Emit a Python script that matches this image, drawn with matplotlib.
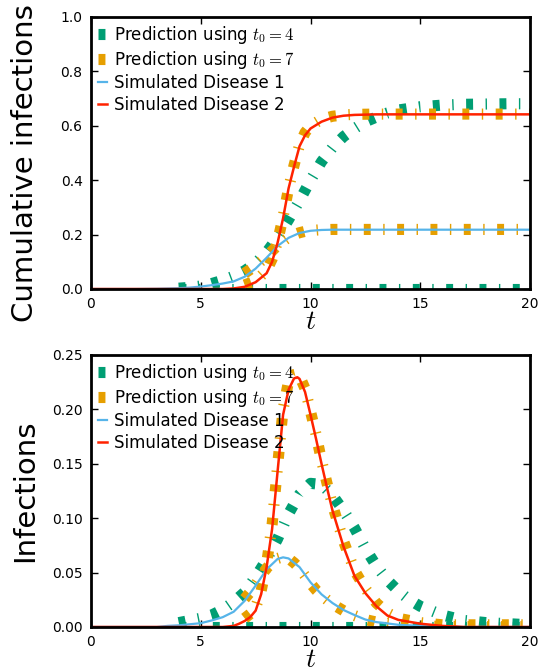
import numpy as np
import matplotlib
matplotlib.use('Agg')
import matplotlib.pyplot as plt

plt.rcParams['mathtext.fontset'] = 'cm'
plt.rcParams['lines.scale_dashes'] = False

TEAL = '#009E73'
ORANGE = '#E69F00'
SKY = '#56B4E9'
RED = '#FF2200'

# ---- cumulative infections (top panel) ----
t_sim1_cum = [0, 1, 2, 3, 4, 4.5, 5, 5.5, 6, 6.5, 7, 7.5, 8, 8.5, 9, 9.5, 10, 10.5, 11, 12, 14, 16, 18, 20]
sim1_cum = [0, 0, 0, 0.001, 0.003, 0.005, 0.009, 0.014, 0.02, 0.028, 0.045, 0.075, 0.115, 0.158, 0.188,
            0.206, 0.214, 0.217, 0.218, 0.218, 0.218, 0.218, 0.218, 0.218]

t_sim2_cum = [0, 2, 4, 6, 6.5, 7, 7.5, 8, 8.25, 8.5, 8.75, 9, 9.25, 9.5, 9.75, 10, 10.5, 11, 11.5, 12,
              13, 15, 17, 20]
sim2_cum = [0, 0, 0, 0, 0.002, 0.008, 0.025, 0.058, 0.1, 0.17, 0.26, 0.37, 0.45, 0.525, 0.565, 0.59,
            0.615, 0.63, 0.637, 0.64, 0.642, 0.642, 0.642, 0.642]

t_p4_cum = [4, 4.5, 5, 5.5, 6, 6.5, 7, 7.5, 8, 8.5, 9, 9.5, 10, 10.5, 11, 11.5, 12, 12.5, 13, 13.5, 14,
            15, 16, 17, 18, 19, 20]
p4_d2_cum = [0.003, 0.006, 0.011, 0.02, 0.032, 0.047, 0.067, 0.095, 0.135, 0.19, 0.255, 0.325, 0.4,
             0.468, 0.52, 0.56, 0.59, 0.615, 0.632, 0.647, 0.658, 0.67, 0.676, 0.679, 0.68, 0.681, 0.681]
t_p4_flat = [4, 20]
p4_d1_cum = [0, 0]

t_p7_cum = [7, 7.5, 8, 8.25, 8.5, 8.75, 9, 9.25, 9.5, 9.75, 10, 10.5, 11, 11.5, 12, 13, 15, 17, 20]
p7_d1_cum = [0.058, 0.085, 0.12, 0.14, 0.16, 0.176, 0.19, 0.2, 0.207, 0.212, 0.215, 0.218, 0.219,
             0.219, 0.219, 0.219, 0.219, 0.219, 0.219]
p7_d2_cum = [0.015, 0.03, 0.068, 0.11, 0.175, 0.265, 0.37, 0.455, 0.53, 0.575, 0.6, 0.624, 0.635,
             0.64, 0.642, 0.643, 0.643, 0.643, 0.643]

# ---- infections (bottom panel) ----
t_sim1 = [0, 1, 2, 3, 3.5, 4, 4.5, 5, 5.5, 6, 6.5, 7, 7.5, 8, 8.5, 8.75, 9, 9.5, 10, 10.5, 11, 11.5,
          12, 12.5, 13, 14, 15, 16, 17, 20]
sim1_inf = [0, 0, 0, 0, 0.001, 0.0015, 0.0025, 0.0035, 0.006, 0.009, 0.014, 0.024, 0.038, 0.053,
            0.0625, 0.064, 0.063, 0.055, 0.041, 0.03, 0.022, 0.0156, 0.011, 0.0068, 0.0045, 0.002,
            0.001, 0.0005, 0, 0]

t_sim2 = [0, 2, 4, 6, 6.5, 6.75, 7, 7.25, 7.5, 7.75, 8, 8.25, 8.5, 8.75, 9, 9.25, 9.4, 9.5, 9.75, 10,
          10.25, 10.5, 10.75, 11, 11.5, 12, 12.5, 13, 13.5, 14, 15, 16, 17, 20]
sim2_inf = [0, 0, 0, 0, 0.001, 0.003, 0.0055, 0.009, 0.015, 0.03, 0.055, 0.09, 0.143, 0.195, 0.218,
            0.2285, 0.2295, 0.228, 0.216, 0.195, 0.173, 0.15, 0.128, 0.107, 0.074, 0.047, 0.031,
            0.019, 0.0105, 0.0065, 0.003, 0.001, 0, 0]

t_p4 = [4, 4.5, 5, 5.5, 6, 6.5, 7, 7.5, 8, 8.5, 9, 9.5, 10, 10.5, 11, 11.5, 12, 12.5, 13, 13.5, 14,
        14.5, 15, 16, 17, 18, 19, 20]
p4_d2_inf = [0.004, 0.006, 0.008, 0.011, 0.016, 0.023, 0.032, 0.046, 0.062, 0.081, 0.104, 0.122,
             0.132, 0.131, 0.121, 0.107, 0.091, 0.072, 0.056, 0.043, 0.033, 0.025, 0.019, 0.011,
             0.006, 0.004, 0.003, 0.002]
p4_d1_inf = [0, 0]

t_p7 = [7, 7.25, 7.5, 7.75, 8, 8.25, 8.5, 8.75, 9, 9.25, 9.45, 9.75, 10, 10.25, 10.5, 10.75, 11, 11.5,
        12, 12.5, 13, 13.5, 14, 15, 16, 17, 20]
p7_d1_inf = [0.026, 0.032, 0.039, 0.047, 0.054, 0.059, 0.063, 0.0645, 0.063, 0.059, 0.055, 0.047,
             0.04, 0.034, 0.029, 0.025, 0.021, 0.015, 0.0105, 0.0068, 0.0045, 0.003, 0.002, 0.001,
             0.0005, 0.0003, 0.0003]
p7_d2_inf = [0.008, 0.012, 0.018, 0.033, 0.058, 0.094, 0.148, 0.2, 0.226, 0.232, 0.233, 0.219,
             0.198, 0.177, 0.153, 0.132, 0.112, 0.079, 0.052, 0.035, 0.022, 0.013, 0.008, 0.004,
             0.002, 0.002, 0.002]

pred_lw = 8
pred_dashes = (5, 9.0, 1.0, 9.0)


def draw_panel(ax, curves):
    (tp4a, p4a), (tp4b, p4b), (tp7, p7a, p7b), (t1, s1), (t2, s2) = curves
    ax.plot(tp4a, p4a, color=TEAL, lw=pred_lw, dashes=pred_dashes, label=r'Prediction using $t_0=4$')
    ax.plot(tp4b, p4b, color=TEAL, lw=pred_lw, dashes=pred_dashes)
    ax.plot(tp7, p7a, color=ORANGE, lw=pred_lw, dashes=pred_dashes, label=r'Prediction using $t_0=7$')
    ax.plot(tp7, p7b, color=ORANGE, lw=pred_lw, dashes=pred_dashes)
    ax.plot(t1, s1, color=SKY, lw=1.6, label='Simulated Disease 1')
    ax.plot(t2, s2, color=RED, lw=1.8, label='Simulated Disease 2')
    ax.set_xlim(0, 20)
    ax.set_xticks([0, 5, 10, 15, 20])
    ax.tick_params(direction='in', top=True, right=True, length=5, width=1, labelsize=10, pad=6)
    for s in ax.spines.values():
        s.set_linewidth(2)
    ax.set_xlabel('$t$', fontsize=20, labelpad=-3)
    ax.legend(loc='upper left', frameon=False, fontsize=12, handlelength=0.55,
              handletextpad=0.45, labelspacing=0.2, borderaxespad=0.2, borderpad=0.2)


fig = plt.figure(figsize=(5.41, 6.71), dpi=100)
ax1 = fig.add_axes([0.168, 0.5693, 0.812, 0.4054])
ax2 = fig.add_axes([0.168, 0.0656, 0.812, 0.4054])

draw_panel(ax1, [(t_p4_flat, p4_d1_cum), (t_p4_cum, p4_d2_cum), (t_p7_cum, p7_d1_cum, p7_d2_cum),
                 (t_sim1_cum, sim1_cum), (t_sim2_cum, sim2_cum)])
ax1.set_ylim(0, 1.0)
ax1.set_yticks([0.0, 0.2, 0.4, 0.6, 0.8, 1.0])
ax1.set_ylabel('Cumulative infections', fontsize=21)
ax1.yaxis.set_label_coords(-0.118, 0.463)

draw_panel(ax2, [(t_p4_flat, p4_d1_inf), (t_p4, p4_d2_inf), (t_p7, p7_d1_inf, p7_d2_inf),
                 (t_sim1, sim1_inf), (t_sim2, sim2_inf)])
ax2.set_ylim(0, 0.25)
ax2.set_yticks([0.0, 0.05, 0.10, 0.15, 0.20, 0.25])
ax2.set_yticklabels(['0.00', '0.05', '0.10', '0.15', '0.20', '0.25'])
ax2.set_ylabel('Infections', fontsize=21)
ax2.yaxis.set_label_coords(-0.118, 0.5)

fig.savefig('out.png', dpi=100)
